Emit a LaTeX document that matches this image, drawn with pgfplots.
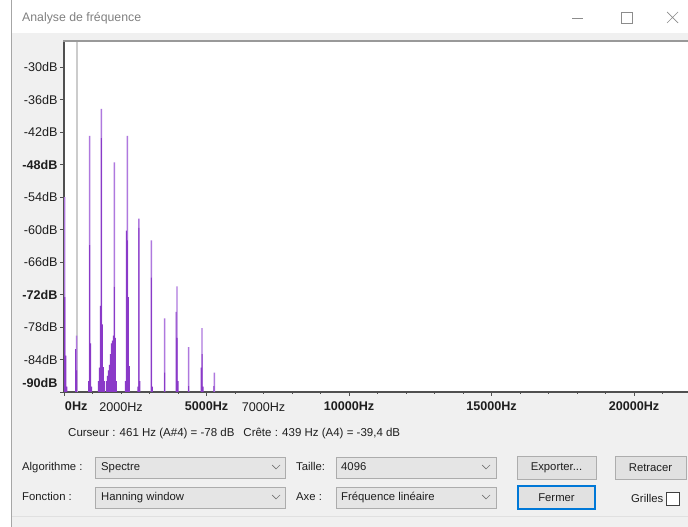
\documentclass[border=0pt]{standalone}
\usepackage{pgfplots}
\pgfplotsset{compat=1.18}
\usepackage{fontspec}
\setmainfont{Liberation Sans}
\definecolor{lightp}{RGB}{175,120,222}
\definecolor{darkp}{RGB}{138,58,200}
\definecolor{winbg}{RGB}{240,240,240}
\definecolor{boxbg}{RGB}{229,229,229}
\definecolor{boxbd}{RGB}{172,172,172}
\definecolor{btnbg}{RGB}{225,225,225}
\definecolor{btnbd}{RGB}{173,173,173}
\definecolor{focus}{RGB}{0,120,215}
\definecolor{axcol}{RGB}{80,80,80}
\definecolor{txt}{RGB}{30,30,30}
\begin{document}
\begin{tikzpicture}[x=1pt,y=1pt]
\useasboundingbox (0,0) rectangle (688,527);
\fill[white] (0,0) rectangle (688,527);
\fill[winbg] (12,0) rectangle (688,494);
\draw[black!35, line width=0.8pt] (11.5,0) -- (11.5,527);
\fill[white] (64,135) rectangle (688,487);
\begin{axis}[
  at={(64pt,135pt)}, anchor=south west,
  scale only axis, width=624pt, height=352pt,
  xmin=0, xmax=21895, ymin=-90, ymax=-25,
  scaled x ticks=false,
  axis x line*=bottom, axis y line*=left,
  axis line style={axcol, line width=1.3pt},
  tick style={axcol, line width=0.9pt},
  tick align=outside,
  major tick length=4pt, minor tick length=2pt,
  xtick={0,5000,10000,15000,20000},
  xticklabels={\makebox[0pt][l]{\hspace{1pt}\textbf{0Hz}},\textbf{5000Hz},\textbf{10000Hz},\textbf{15000Hz},\textbf{20000Hz}},
  extra x ticks={2000,7000},
  extra x tick labels={2000Hz,7000Hz},
  extra x tick style={major tick length=2pt, xticklabel style={yshift=-3pt}},
  xticklabel style={yshift=-2.5pt},
  minor xtick={1000,3000,4000,6000,8000,9000,11000,12000,13000,14000,16000,17000,18000,19000,21000},
  ytick={-30,-36,-42,-48,-54,-60,-66,-72,-78,-84},
  yticklabels={-30dB,-36dB,-42dB,\textbf{-48dB},-54dB,-60dB,-66dB,\textbf{-72dB},-78dB,-84dB},
  extra y ticks={-90},
  extra y tick labels={\textbf{-90dB}},
  extra y tick style={yticklabel style={yshift=9pt}},
  ticklabel style={font=\fontsize{12.6}{14}\selectfont, text=txt},
  y tick label style={xshift=1pt},
  clip=true,
]
\addplot[black!20, line width=1.6pt] coordinates {(461,-90) (461,-25)};
\addplot[const plot, fill=lightp, draw=none] coordinates {
(0,-100)(0,-54)(50,-100)
(420,-79.6)(470,-100)
(876,-42.7)(926,-100)
(1285,-37.7)(1335,-100)
(1741,-47.6)(1791,-100)
(2197,-42.7)(2247,-100)
(2605,-58)(2655,-100)
(3039,-62)(3089,-100)
(3508,-76.4)(3558,-100)
(3940,-70.5)(3990,-100)
(4350,-81.7)(4400,-100)
(4817,-78.2)(4867,-100)
(5250,-86.4)(5300,-100)
(22000,-100)};
\addplot[const plot, fill=darkp, draw=none] coordinates {
(0,-100)(0,-72.5)(45,-83.3)(80,-89)(115,-100)
(393,-82.1)(428,-86)(463,-100)
(849,-88)(884,-62.9)(919,-81)(954,-89)(989,-100)
(1188,-88)(1223,-85.5)(1258,-74.1)(1293,-43.1)(1328,-77.5)(1363,-85.4)(1398,-88)(1433,-100)
(1469,-88)(1504,-87)(1539,-86)(1574,-85)(1609,-83)(1644,-81)(1679,-80.5)(1714,-79.6)(1749,-70.6)(1784,-80)(1819,-88)(1854,-100)
(2135,-88)(2170,-60.2)(2205,-62)(2240,-72.5)(2275,-85.2)(2310,-100)
(2578,-89)(2613,-59.7)(2648,-88)(2683,-100)
(3047,-68.9)(3082,-89)(3117,-100)
(3516,-86.4)(3551,-100)
(3913,-75.2)(3948,-80)(3983,-88)(4018,-100)
(4358,-88.9)(4393,-100)
(4790,-85.5)(4825,-83)(4860,-89)(4895,-100)
(5243,-88.9)(5278,-100)
(22000,-100)};
\end{axis}
\begin{scope}[shift={(0,527)}, y=-1pt]
  \draw[black!40, line width=2pt] (63,41) -- (688,41);
  % title bar
  \node[anchor=base west, inner sep=0, text=black!50, font=\fontsize{12.3}{14}\selectfont] at (22,22) {Analyse de fréquence};
  \draw[black!45, line width=0.7pt] (572,18) -- (583,18);
  \draw[black!45, line width=0.7pt] (621,12) rectangle (632,23);
  \draw[black!45, line width=0.7pt] (667,12) -- (678,23) (678,12) -- (667,23);
  % cursor text
  \node[anchor=base west, inner sep=0, text=txt, font=\fontsize{11.5}{14}\selectfont] at (68,437) {Curseur : 461 Hz (A\#4) = -78 dB\hspace{9pt}Crête : 439 Hz (A4) = -39,4 dB};
  % row 1
  \node[anchor=base west, inner sep=0, text=txt, font=\fontsize{11.3}{14}\selectfont] at (22,471) {Algorithme :};
  \draw[boxbd, fill=boxbg, line width=0.8pt] (95,457) rectangle (285,478);
  \node[anchor=base west, inner sep=0, text=txt, font=\fontsize{11.3}{14}\selectfont] at (101,471) {Spectre};
  \draw[black!55, line width=0.7pt] (272,465) -- (276,469) -- (280,465);
  \node[anchor=base west, inner sep=0, text=txt, font=\fontsize{11.3}{14}\selectfont] at (296,471) {Taille:};
  \draw[boxbd, fill=boxbg, line width=0.8pt] (336,457) rectangle (496,478);
  \node[anchor=base west, inner sep=0, text=txt, font=\fontsize{11.3}{14}\selectfont] at (341,471) {4096};
  \draw[black!55, line width=0.7pt] (482,465) -- (486,469) -- (490,465);
  \draw[btnbd, fill=btnbg, line width=0.8pt] (517,456) rectangle (596,479);
  \node[text=txt, font=\fontsize{11.3}{14}\selectfont] at (556.5,467.5) {Exporter...};
  \draw[btnbd, fill=btnbg, line width=0.8pt] (615,456) rectangle (686,479);
  \node[text=txt, font=\fontsize{11.3}{14}\selectfont] at (650.5,467.5) {Retracer};
  % row 2
  \node[anchor=base west, inner sep=0, text=txt, font=\fontsize{11.3}{14}\selectfont] at (22,501) {Fonction :};
  \draw[boxbd, fill=boxbg, line width=0.8pt] (95,487) rectangle (285,508);
  \node[anchor=base west, inner sep=0, text=txt, font=\fontsize{11.3}{14}\selectfont] at (101,501) {Hanning window};
  \draw[black!55, line width=0.7pt] (272,495) -- (276,499) -- (280,495);
  \node[anchor=base west, inner sep=0, text=txt, font=\fontsize{11.3}{14}\selectfont] at (296,501) {Axe :};
  \draw[boxbd, fill=boxbg, line width=0.8pt] (336,487) rectangle (496,508);
  \node[anchor=base west, inner sep=0, text=txt, font=\fontsize{11.3}{14}\selectfont] at (341,501) {Fréquence linéaire};
  \draw[black!55, line width=0.7pt] (482,495) -- (486,499) -- (490,495);
  \draw[focus, fill=btnbg, line width=1.3pt] (518,486) rectangle (595,509);
  \node[text=txt, font=\fontsize{11.3}{14}\selectfont] at (556.5,497.5) {Fermer};
  \node[anchor=base west, inner sep=0, text=txt, font=\fontsize{11.3}{14}\selectfont] at (631,503) {Grilles};
  \draw[black!75, fill=white, line width=0.8pt] (666,492) rectangle (679,505);
  \draw[black!12, line width=0.8pt] (12,516) -- (688,516);
\end{scope}
\end{tikzpicture}
\end{document}
